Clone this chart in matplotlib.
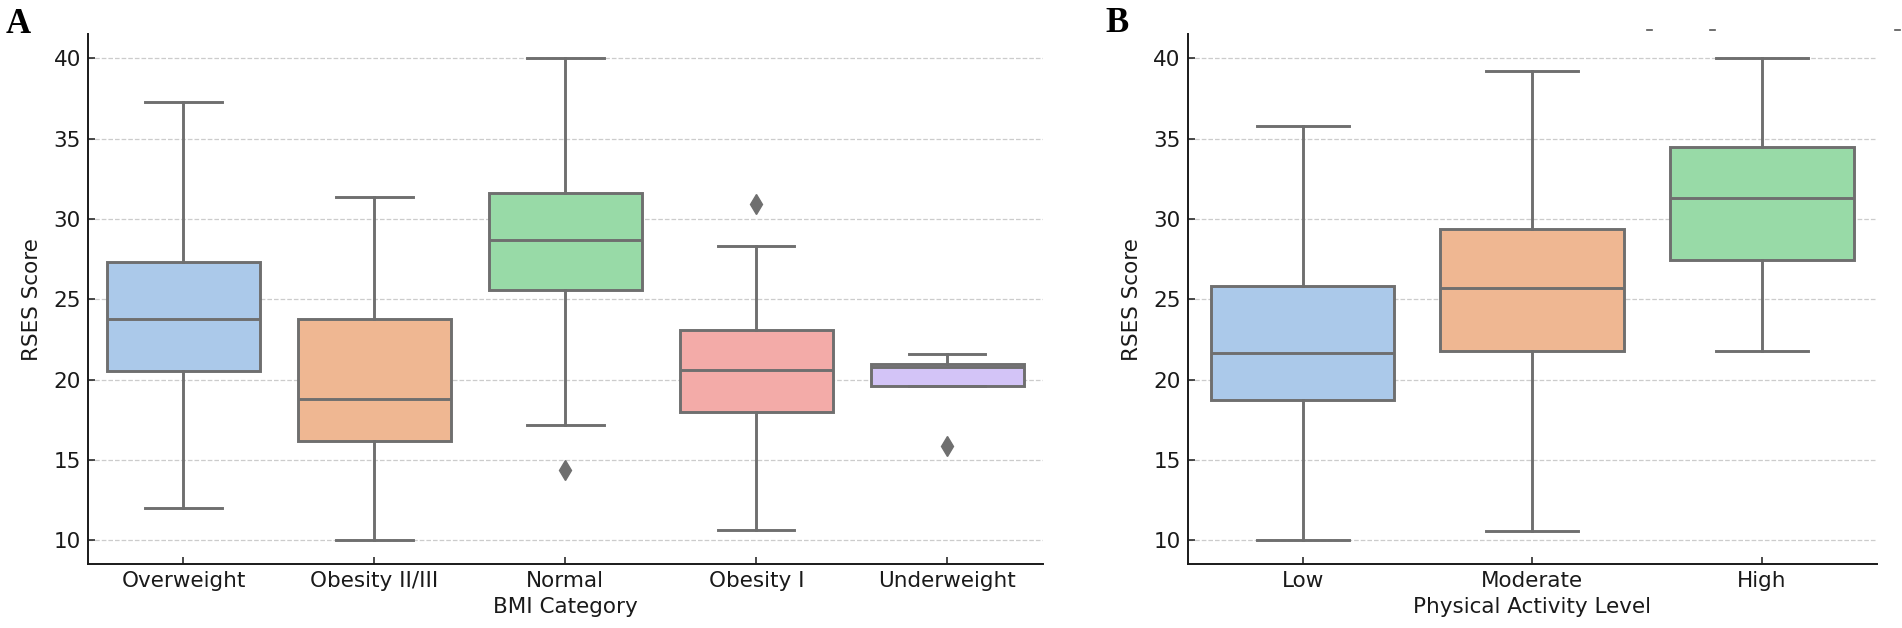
import colorsys
import matplotlib
matplotlib.use("Agg")
import matplotlib.pyplot as plt
from matplotlib.lines import Line2D
import matplotlib.colors as mcolors

# ---------------- data ----------------
bmi_categories = ["Overweight", "Obesity II/III", "Normal", "Obesity I", "Underweight"]
bmi_whislo = [12.0, 10.0, 17.2, 10.65, 19.6]
bmi_q1 = [20.55, 16.15, 25.6, 18.0, 19.6]
bmi_med = [23.8, 18.8, 28.7, 20.6, 20.8]
bmi_q3 = [27.3, 23.8, 31.6, 23.1, 21.0]
bmi_whishi = [37.3, 31.4, 40.0, 28.3, 21.6]
bmi_fliers = [[], [], [14.4], [30.95], [15.85]]

pa_categories = ["Low", "Moderate", "High"]
pa_whislo = [10.0, 10.6, 21.8]
pa_q1 = [18.75, 21.75, 27.45]
pa_med = [21.65, 25.7, 31.3]
pa_q3 = [25.85, 29.35, 34.5]
pa_whishi = [35.8, 39.2, 40.0]
pa_fliers = [[], [], []]

pastel = ["#a1c9f4", "#ffb482", "#8de5a1", "#ff9f9b", "#d0bbff"]


def desat(c, prop=0.75):
    r, g, b = mcolors.to_rgb(c)
    h, l, s = colorsys.rgb_to_hls(r, g, b)
    return colorsys.hls_to_rgb(h, l, s * prop)


colors = [desat(c) for c in pastel]
lum = min(colorsys.rgb_to_hls(*c)[1] for c in colors) * 0.6
gray = (lum, lum, lum)

plt.rcParams["font.family"] = ["DejaVu Sans"]

fig = plt.figure(figsize=(19.02, 6.28), dpi=100)
W, H = 1902, 628
axA = fig.add_axes([88 / W, 1 - 564.3 / H, (1042.7 - 88) / W, (564.3 - 34.3) / H])
axB = fig.add_axes([1187.7 / W, 1 - 564.3 / H, (1877 - 1187.7) / W, (564.3 - 34.3) / H])


def draw(ax, cats, wlo, q1, med, q3, whi, fl, cols, xlabel):
    stats = []
    for i, c in enumerate(cats):
        stats.append(dict(label=c, whislo=wlo[i], q1=q1[i], med=med[i],
                          q3=q3[i], whishi=whi[i], fliers=fl[i]))
    lw = 2.1
    bp = ax.bxp(stats, positions=list(range(len(cats))), widths=0.8,
                capwidths=0.4, patch_artist=True, showfliers=True,
                boxprops=dict(edgecolor=gray, linewidth=lw),
                medianprops=dict(color=gray, linewidth=lw),
                whiskerprops=dict(color=gray, linewidth=lw),
                capprops=dict(color=gray, linewidth=lw),
                flierprops=dict(marker="d", markerfacecolor=gray,
                                markeredgecolor=gray, markersize=10,
                                linestyle="none"))
    for patch, col in zip(bp["boxes"], cols):
        patch.set_facecolor(col)
    ax.set_xlim(-0.5, len(cats) - 0.5)
    ax.set_ylim(8.5, 41.5)
    ax.set_yticks([10, 15, 20, 25, 30, 35, 40])
    ax.set_xticks(list(range(len(cats))))
    ax.set_xticklabels(cats)
    ax.yaxis.grid(True, linestyle="--", color="#cccccc", linewidth=0.9)
    ax.set_axisbelow(True)
    for s in ["top", "right"]:
        ax.spines[s].set_visible(False)
    for s in ["left", "bottom"]:
        ax.spines[s].set_color("#1a1a1a")
        ax.spines[s].set_linewidth(1.4)
    ax.tick_params(direction="in", length=5, width=1.1, colors="#1a1a1a",
                   labelsize=15.5, pad=5)
    ax.set_xlabel(xlabel, fontsize=15.5, color="#1a1a1a", labelpad=4)
    ax.set_ylabel("RSES Score", fontsize=15.5, color="#1a1a1a", labelpad=8)


draw(axA, bmi_categories, bmi_whislo, bmi_q1, bmi_med, bmi_q3, bmi_whishi,
     bmi_fliers, colors, "BMI Category")
draw(axB, pa_categories, pa_whislo, pa_q1, pa_med, pa_q3, pa_whishi,
     pa_fliers, colors[:3], "Physical Activity Level")

fig.text(6 / W, 1 - 33 / H, "A", fontsize=25, fontweight="bold",
         family="Liberation Serif", color="black")
fig.text(1105 / W, 1 - 32 / H, "B", fontsize=25, fontweight="bold",
         family="Liberation Serif", color="black")

# small stray dashes at top right of reference
for xd in [1649, 1712, 1897]:
    fig.add_artist(Line2D([(xd - 2.5) / W, (xd + 2.5) / W], [1 - 30 / H, 1 - 30 / H],
                          color="#555555", linewidth=1.2))

fig.savefig("out.png", dpi=100)
